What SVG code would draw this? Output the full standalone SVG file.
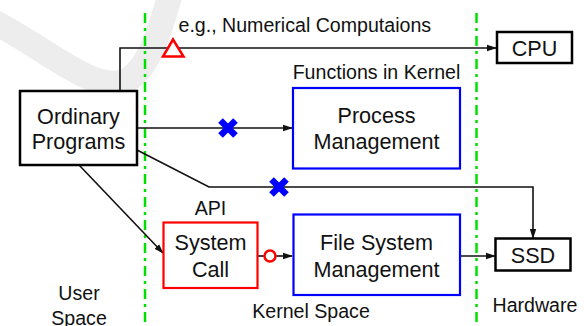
<svg xmlns="http://www.w3.org/2000/svg" width="584" height="326" viewBox="0 0 584 326">
  <style>
    text { font-family: "Liberation Sans", Arial, sans-serif; font-size: 19.6px; fill: #111; }
    .mid { text-anchor: middle; }
    .node { font-size: 21.6px; }
    .box { fill: #fff; stroke: #000; stroke-width: 2.5; }
    .kern { fill: #fff; stroke: #0000ff; stroke-width: 2.2; }
    .api { fill: #fff; stroke: #ff0000; stroke-width: 2.2; }
    .wire { fill: none; stroke: #111; stroke-width: 1.6; }
    .bound { stroke: #00e000; stroke-width: 2.5; stroke-dasharray: 10 5 3 5; }
    .cross { stroke: #0000ff; stroke-width: 6.5; }
  </style>
  <defs>
    <marker id="arrow" markerWidth="10" markerHeight="8" refX="9" refY="4" orient="auto" markerUnits="userSpaceOnUse">
      <path d="M0,0.8 L10,4 L0,7.2 Z" fill="#111"/>
    </marker>
  </defs>

  <rect width="584" height="326" fill="#fff"/>

  <!-- faint background swoosh -->
  <path d="M -10,20 C 50,50 95,96 128,80 C 150,66 160,30 170,-5" fill="none" stroke="#ededed" stroke-width="25"/>

  <!-- space boundaries -->
  <g id="boundaries">
    <line class="bound" x1="145" y1="13" x2="145" y2="326"/>
    <line class="bound" x1="476.5" y1="13" x2="476.5" y2="326"/>
  </g>

  <!-- connectors -->
  <g id="connectors">
    <polyline class="wire" points="120,91 120,48 496,48" marker-end="url(#arrow)" stroke-width="2"/>
    <line class="wire" x1="137" y1="128" x2="292" y2="128" marker-end="url(#arrow)"/>
    <polyline class="wire" points="137,150 209,187 533,187 533,238" marker-end="url(#arrow)"/>
    <line class="wire" x1="79" y1="165" x2="163" y2="253" marker-end="url(#arrow)"/>
    <line class="wire" x1="257" y1="256" x2="264.5" y2="256"/>
    <line class="wire" x1="275.5" y1="256" x2="292" y2="256" marker-end="url(#arrow)"/>
    <line class="wire" x1="460" y1="256" x2="495" y2="256" marker-end="url(#arrow)"/>
  </g>

  <!-- connector markers -->
  <g id="markers">
    <polygon points="173,39.5 163,56.5 183.5,56.5" fill="#fff" stroke="#ff0000" stroke-width="2.5"/>
    <g class="cross">
      <line x1="220.5" y1="120.5" x2="235.5" y2="135.5"/>
      <line x1="235.5" y1="120.5" x2="220.5" y2="135.5"/>
      <line x1="271.5" y1="179.5" x2="286.5" y2="194.5"/>
      <line x1="286.5" y1="179.5" x2="271.5" y2="194.5"/>
    </g>
    <circle cx="270" cy="256" r="5.5" fill="#fff" stroke="#ff0000" stroke-width="2.5"/>
  </g>

  <!-- nodes -->
  <g id="ordinary-programs">
    <rect class="box" x="20" y="91" width="117" height="74"/>
    <text class="mid node" x="78.5" y="123.5">Ordinary</text>
    <text class="mid node" x="78.5" y="149">Programs</text>
  </g>

  <g id="cpu">
    <rect class="box" x="497" y="32" width="75" height="31"/>
    <text class="mid node" x="534.5" y="55.5">CPU</text>
  </g>

  <g id="process-management">
    <rect class="kern" x="293" y="88" width="167" height="80.5"/>
    <text class="mid node" x="376.5" y="123">Process</text>
    <text class="mid node" x="376.5" y="148.5">Management</text>
  </g>

  <g id="system-call">
    <rect class="api" x="163.5" y="222.5" width="94" height="65.5"/>
    <text class="mid node" x="210.5" y="249.5">System</text>
    <text class="mid node" x="210.5" y="276.5">Call</text>
  </g>

  <g id="file-system-management">
    <rect class="kern" x="293.5" y="214.5" width="166.5" height="80.5"/>
    <text class="mid node" x="376.5" y="249.5">File System</text>
    <text class="mid node" x="376.5" y="276.5">Management</text>
  </g>

  <g id="ssd">
    <rect class="box" x="495.5" y="238.5" width="75" height="32"/>
    <text class="mid node" x="533" y="262.5">SSD</text>
  </g>

  <!-- labels -->
  <g id="labels">
    <text x="178.5" y="31.5">e.g., Numerical Computaions</text>
    <text class="mid" x="376.5" y="78.5">Functions in Kernel</text>
    <text class="mid" x="210.5" y="215">API</text>
    <text class="mid" x="79" y="300">User</text>
    <text class="mid" x="79" y="324.5">Space</text>
    <text class="mid" x="311" y="318">Kernel Space</text>
    <text x="492.5" y="312">Hardware</text>
  </g>
</svg>
